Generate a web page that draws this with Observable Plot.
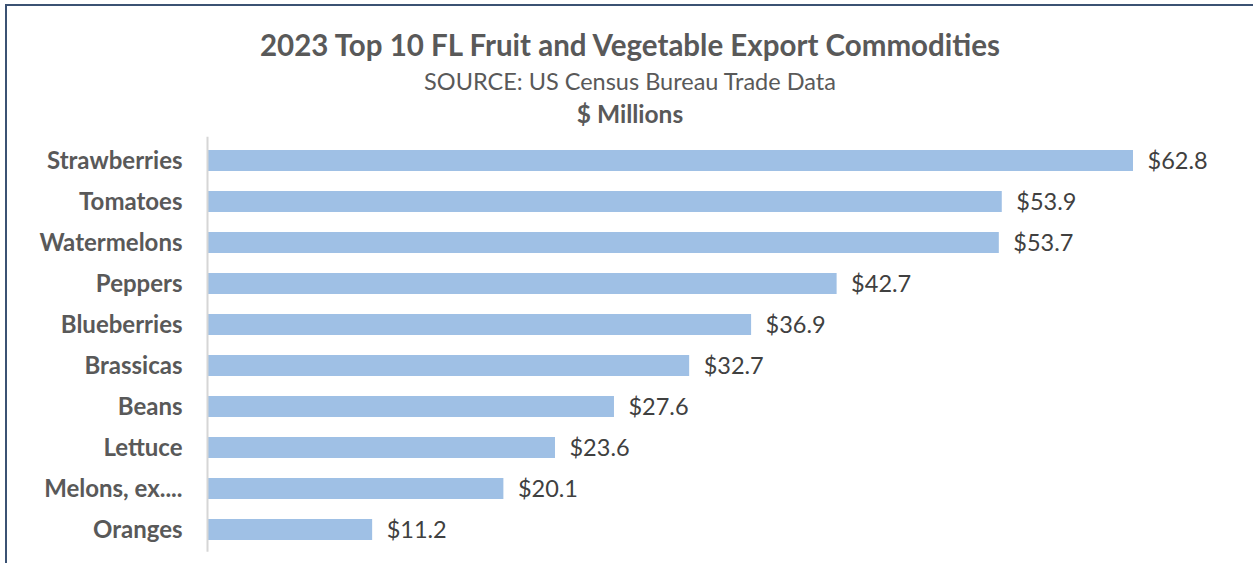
<!DOCTYPE html>
<html>
<head>
<meta charset="utf-8">
<script src="https://cdn.jsdelivr.net/npm/d3@7"></script>
<script src="https://cdn.jsdelivr.net/npm/@observablehq/plot@0.6"></script>
<style>
  html, body { margin: 0; padding: 0; background: #fff; }
  #wrap { position: relative; width: 1253px; height: 563px; overflow: hidden; font-family: Lato, "Open Sans", sans-serif; }
  #bl { position: absolute; left: 5px; top: 4px; width: 2px; height: 563px; background: #3b5273; }
  #bt { position: absolute; left: 5px; top: 4px; width: 1248px; height: 2px; background: #3b5273; }
  #titles { position: absolute; left: 7px; top: 0; width: 1246px; text-align: center; color: #595959; }
  #t1 { position: absolute; top: 27px; width: 100%; font-size: 29.5px; font-weight: bold; }
  #t2 { position: absolute; top: 67px; width: 100%; font-size: 23.5px; }
  #t3 { position: absolute; top: 98.5px; width: 100%; font-size: 24.5px; font-weight: bold; }
  #chart { position: absolute; left: 0; top: 125px; }
</style>
</head>
<body>
<div id="wrap">
  <div id="titles">
    <div id="t1">2023 Top 10 FL Fruit and Vegetable Export Commodities</div>
    <div id="t2">SOURCE: US Census Bureau Trade Data</div>
    <div id="t3">$ Millions</div>
  </div>
  <div id="chart"></div>
  <div id="bl"></div>
  <div id="bt"></div>
</div>
<script>
const commodities = ["Strawberries", "Tomatoes", "Watermelons", "Peppers", "Blueberries", "Brassicas", "Beans", "Lettuce", "Melons, ex....", "Oranges"];
const exportValues = [62.8, 53.9, 53.7, 42.7, 36.9, 32.7, 27.6, 23.6, 20.1, 11.2];

const data = commodities.map((c, i) => ({commodity: c, value: exportValues[i]}));

const chart = Plot.plot({
  width: 1253,
  height: 438,
  marginLeft: 207,
  marginRight: 120,
  marginTop: 11.75,
  marginBottom: 11.25,
  style: {fontFamily: "Lato, 'Open Sans', sans-serif", background: "transparent"},
  x: {domain: [0, 62.8], axis: null},
  y: {domain: commodities, paddingInner: 0.5, paddingOuter: 0.25, label: null},
  marks: [
    Plot.barX(data, {y: "commodity", x: "value", fill: "#9fc0e5"}),
    Plot.ruleX([0], {stroke: "#d6d6d6", strokeWidth: 2}),
    Plot.text(data, {y: "commodity", x: "value", text: d => "$" + d.value.toFixed(1), textAnchor: "start", dx: 14, fontSize: 23.5, fill: "#404040"}),
    Plot.axisY({tickSize: 0, tickPadding: 25, fontSize: 24, fontWeight: "bold", color: "#595959", label: null})
  ]
});
document.getElementById("chart").appendChild(chart);
</script>
</body>
</html>
